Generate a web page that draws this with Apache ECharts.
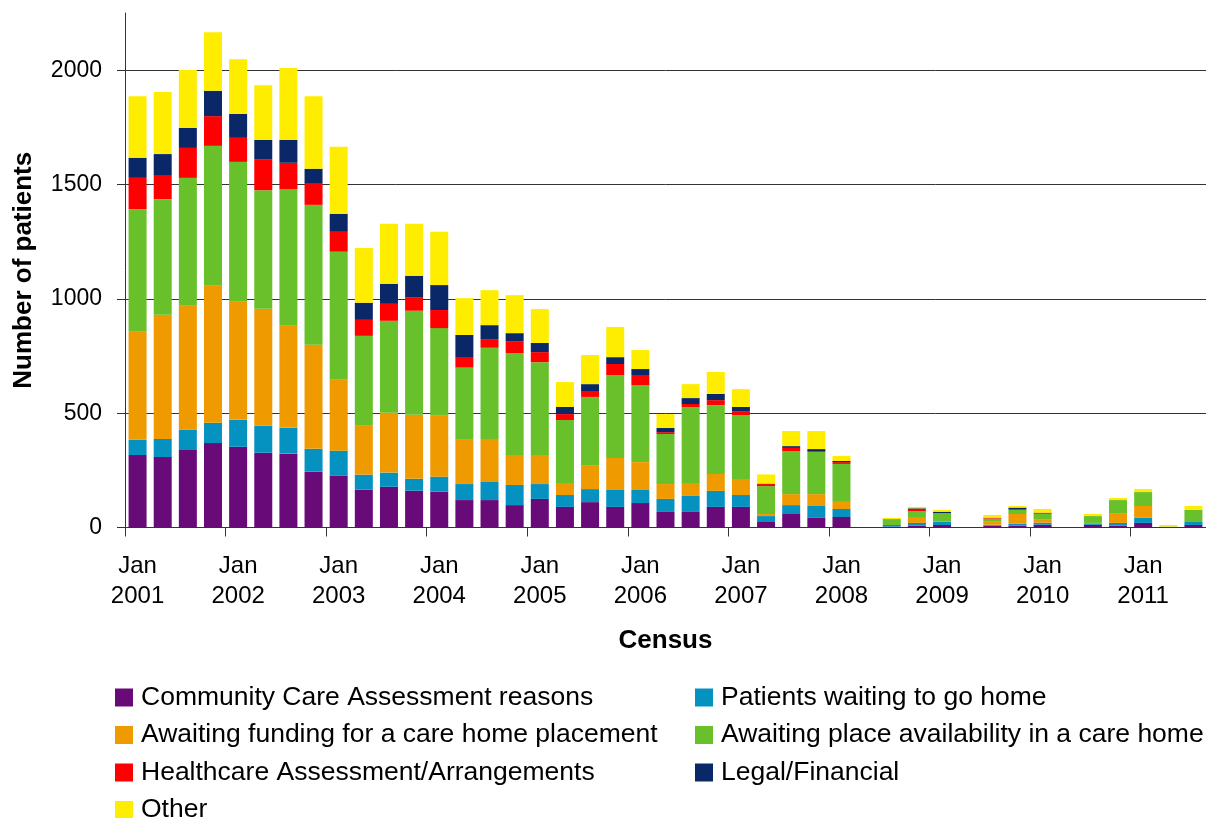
<!DOCTYPE html>
<html>
<head>
<meta charset="utf-8">
<script src="https://cdn.jsdelivr.net/npm/echarts@6/dist/echarts.min.js"></script>
<style>
html,body{margin:0;padding:0;background:#fff;}
#chart{width:1206px;height:818px;}
</style>
</head>
<body>
<div id="chart"></div>
<script>
const years = ['2001','2002','2003','2004','2005','2006','2007','2008','2009','2010','2011'];
const months = ['Jan','Apr','Jul','Oct'];
const categories = [];
years.forEach(function (y) { months.forEach(function (m) { categories.push(m + ' ' + y); }); });
categories.length = 43; // Jan 2001 .. Jul 2011

const communityCare = [317,308,339,369, 353,327,323,244, 226,165,178,161, 157,120,120,98, 125,90,111,90, 107,68,68,90, 90,24,59,42, 46,0,4,8, 11,0,8,8, 12,0,11,8, 20,2,11];
const waitingHome   = [67,79,89,89, 118,118,113,100, 110,66,62,52, 65,70,79,88, 65,52,57,74, 57,57,70,70, 52,26,39,52, 35,0,7,12, 13,0,4,9, 9,0,4,12, 22,0,13];
const awaitFunding  = [472,543,542,599, 516,512,446,455, 310,214,262,280, 267,194,188,131, 127,53,105,140, 122,65,57,74, 70,9,48,52, 31,0,0,22, 4,0,13,42, 13,0,5,43, 52,0,0];
const awaitPlace    = [536,506,559,612, 612,518,598,612, 560,393,402,455, 383,315,399,446, 406,275,298,363, 337,219,332,301, 280,122,188,184, 166,0,26,30, 35,0,14,18, 26,0,30,57, 61,2,53];
const healthcare    = [137,102,131,130, 105,136,115,92, 87,70,74,57, 79,43,38,52, 44,26,26,48, 44,8,13,22, 17,9,14,4, 8,0,0,9, 0,0,4,4, 5,0,0,0, 0,0,0];
const legalFin      = [88,95,88,111, 105,84,100,66, 79,75,88,96, 109,100,61,35, 40,31,30,30, 26,18,26,27, 18,2,8,9, 5,0,0,3, 6,0,0,6, 0,0,0,0, 0,0,0];
const other         = [269,272,253,256, 239,239,315,317, 293,239,262,227, 233,161,153,166, 148,109,127,132, 83,61,61,96, 78,40,66,79, 22,0,5,6, 8,0,12,7, 16,0,9,9, 13,7,17];

const seriesNames = [
  'Community Care Assessment reasons',
  'Patients waiting to go home',
  'Awaiting funding for a care home placement',
  'Awaiting place availability in a care home',
  'Healthcare Assessment/Arrangements',
  'Legal/Financial',
  'Other'
];
const seriesData = [communityCare, waitingHome, awaitFunding, awaitPlace, healthcare, legalFin, other];
const colors = ['#690A79', '#0592C1', '#EF9B00', '#68C02B', '#FF0000', '#0A2868', '#FFED00'];

const FONT = "'Liberation Sans', Arial, sans-serif";

const chart = echarts.init(document.getElementById('chart'), null, {renderer: 'canvas'});

const series = seriesNames.map(function (name, i) {
  return {
    name: name,
    type: 'bar',
    stack: 'total',
    barWidth: 18,
    data: seriesData[i],
    itemStyle: {color: colors[i]},
    emphasis: {disabled: true}
  };
});

const legendCommon = {
  orient: 'vertical',
  icon: 'rect',
  itemWidth: 18,
  itemHeight: 18,
  itemGap: 10.5,
  padding: 0,
  height: 140,
  selectedMode: false,
  textStyle: {fontFamily: FONT, fontSize: 26.5, color: '#000', padding: [0, 0, 0, 3]}
};

chart.setOption({
  animation: false,
  color: colors,
  textStyle: {fontFamily: FONT},
  grid: {left: 125, right: 0, top: 13, bottom: 290.5, containLabel: false},
  legend: [
    Object.assign({left: 115, top: 684, data: [seriesNames[0], seriesNames[2], seriesNames[4], seriesNames[6]]}, legendCommon),
    Object.assign({left: 695, top: 684, data: [seriesNames[1], seriesNames[3], seriesNames[5]]}, legendCommon)
  ],
  xAxis: {
    type: 'category',
    data: categories,
    name: 'Census',
    nameLocation: 'middle',
    nameGap: 100,
    nameTextStyle: {fontFamily: FONT, fontSize: 26, fontWeight: 'bold', color: '#000'},
    axisLine: {lineStyle: {color: '#333', width: 1}},
    axisTick: {show: true, interval: 3, length: 9, lineStyle: {color: '#333'}},
    axisLabel: {
      interval: 3,
      margin: 24,
      fontSize: 24,
      lineHeight: 30,
      color: '#000',
      fontFamily: FONT,
      formatter: function (v) { return v.replace(' ', '\n'); }
    },
    splitLine: {show: false}
  },
  yAxis: {
    type: 'value',
    min: 0,
    max: 2250,
    interval: 500,
    name: 'Number of patients',
    nameLocation: 'middle',
    nameRotate: 90,
    nameGap: 88,
    nameTextStyle: {fontFamily: FONT, fontSize: 26, fontWeight: 'bold', color: '#000'},
    axisLine: {show: true, lineStyle: {color: '#333', width: 1}},
    axisTick: {show: true, length: 8, lineStyle: {color: '#333'}},
    axisLabel: {
      fontSize: 23, color: '#000', fontFamily: FONT, margin: 23, showMaxLabel: false,
      formatter: function (v) { return String(v); }
    },
    splitLine: {show: true, showMaxLine: false, lineStyle: {color: '#333', width: 1}}
  },
  series: series
});
</script>
</body>
</html>
